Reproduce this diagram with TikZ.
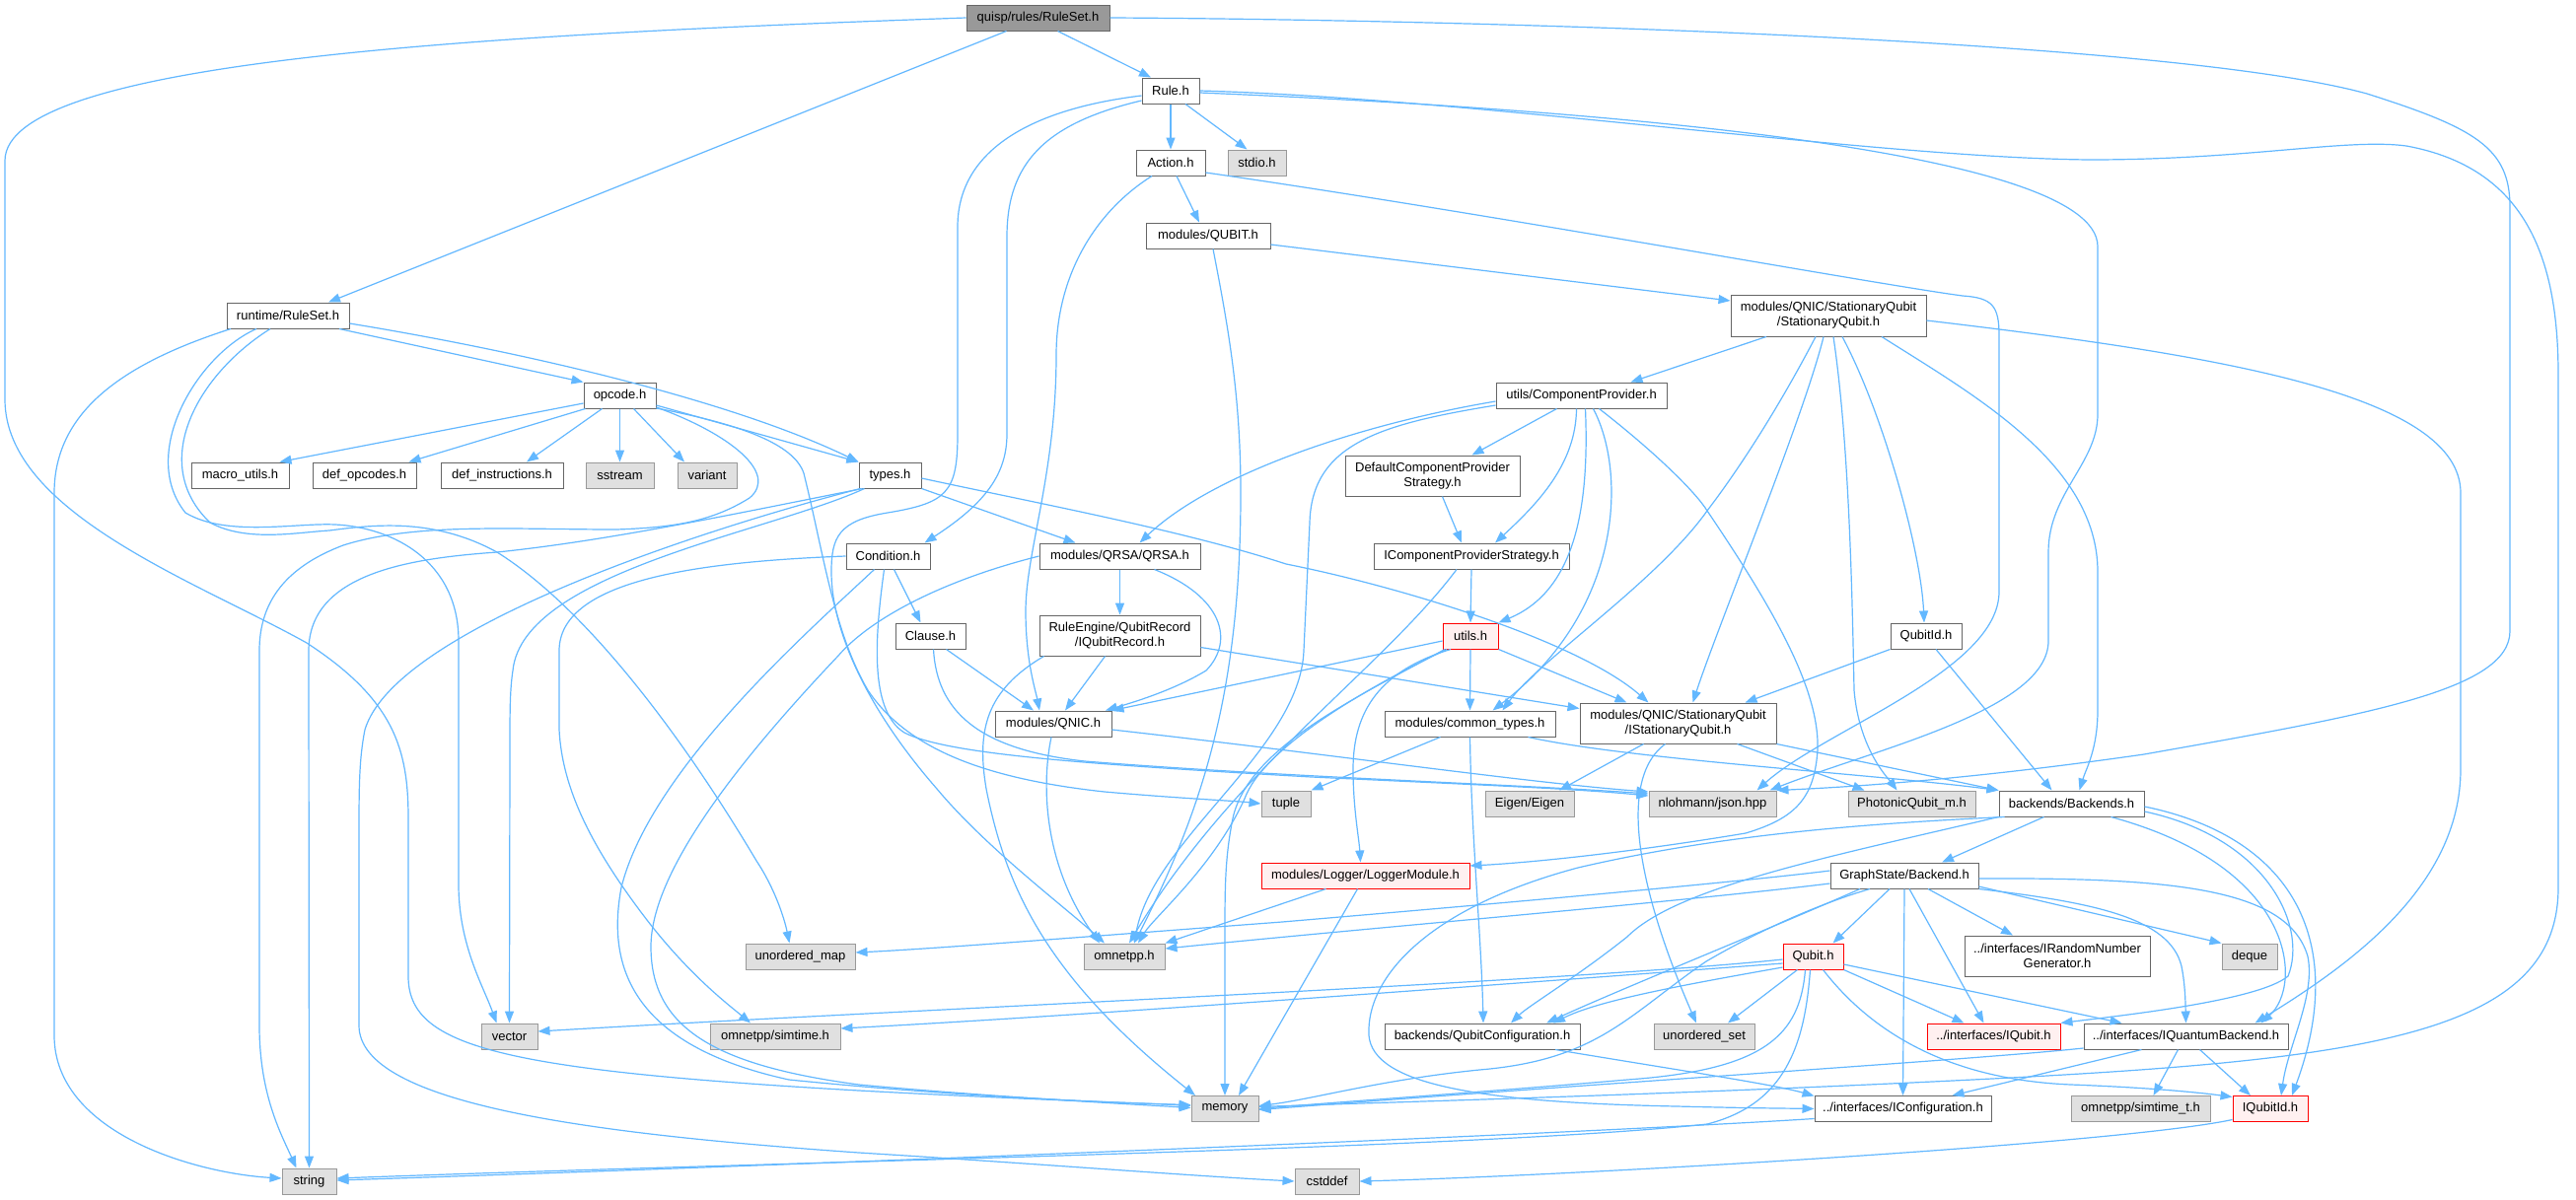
\documentclass[tikz,border=0pt]{standalone}
\usepackage{fontspec}
\setmainfont{Liberation Sans}
\usetikzlibrary{arrows.meta}
\definecolor{edgeblue}{HTML}{63B8FF}
\definecolor{bordergray}{HTML}{666666}
\definecolor{sysfill}{HTML}{E0E0E0}
\definecolor{sysborder}{HTML}{999999}
\definecolor{redborder}{HTML}{FF0000}
\definecolor{redfill}{HTML}{FFF0F0}
\definecolor{rootfill}{HTML}{999999}
\tikzset{
 box/.style={draw=bordergray, fill=white, line width=1pt, inner sep=0pt, minimum height=26pt, font=\fontsize{13}{15}\selectfont, align=center, text=black},
 sys/.style={box, draw=sysborder, fill=sysfill},
 hot/.style={box, draw=redborder, fill=redfill},
 lnk/.style={draw=edgeblue, line width=1.2pt, -{Triangle[length=12pt,width=9pt]}},
}
\begin{document}
\begin{tikzpicture}[x=1pt,y=-1pt]
\fill[white] (0,0) rectangle (2612,1216);
% nodes
\node[box,minimum width=145pt,fill=rootfill] (Q) at (1052.5,18) {quisp/rules/RuleSet.h};
\node[box,minimum width=58pt] (Rule) at (1187,92) {Rule.h};
\node[box,minimum width=70pt] (Action) at (1187,165) {Action.h};
\node[sys,minimum width=59pt] (stdio) at (1274.5,165) {stdio.h};
\node[box,minimum width=126pt] (QUBIT) at (1225,239) {modules/QUBIT.h};
\node[box,minimum width=198pt,minimum height=42pt] (StatQ) at (1854,320) {modules/QNIC/StationaryQubit\\/StationaryQubit.h};
\node[box,minimum width=173pt] (CompProv) at (1603.5,401) {utils/ComponentProvider.h};
\node[box,minimum width=124pt] (RRS) at (292,320) {runtime/RuleSet.h};
\node[box,minimum width=73pt] (opcode) at (628.5,401) {opcode.h};
\node[box,minimum width=99pt] (macro) at (243.5,482) {macro\_utils.h};
\node[box,minimum width=105pt] (defop) at (369.5,482) {def\_opcodes.h};
\node[box,minimum width=124pt] (definst) at (509,482) {def\_instructions.h};
\node[sys,minimum width=69pt] (sstream) at (628.5,482) {sstream};
\node[sys,minimum width=60pt] (variant) at (717,482) {variant};
\node[box,minimum width=63pt] (types) at (902.5,482) {types.h};
\node[box,minimum width=85pt] (Condition) at (900.5,564) {Condition.h};
\node[box,minimum width=163pt] (QRSA) at (1135.5,564) {modules/QRSA/QRSA.h};
\node[box,minimum width=177pt,minimum height=41pt] (Default) at (1452.5,482.5) {DefaultComponentProvider\\Strategy.h};
\node[box,minimum width=198pt] (ICPS) at (1492,564) {IComponentProviderStrategy.h};
\node[box,minimum width=71pt] (Clause) at (943.5,645) {Clause.h};
\node[box,minimum width=163pt,minimum height=41pt] (IQR) at (1135.5,644.5) {RuleEngine/QubitRecord\\/IQubitRecord.h};
\node[hot,minimum width=56pt] (utils) at (1491,645) {utils.h};
\node[box,minimum width=72pt] (QubitId) at (1953,645) {QubitId.h};
\node[box,minimum width=118pt] (QNIC) at (1068,734) {modules/QNIC.h};
\node[box,minimum width=173pt] (common) at (1490.5,734) {modules/common\_types.h};
\node[box,minimum width=199pt,minimum height=41pt] (IStatQ) at (1701.5,733.5) {modules/QNIC/StationaryQubit\\/IStationaryQubit.h};
\node[sys,minimum width=50pt] (tuple) at (1304,815) {tuple};
\node[sys,minimum width=90pt] (Eigen) at (1551,815) {Eigen/Eigen};
\node[sys,minimum width=129pt] (json) at (1736.5,815) {nlohmann/json.hpp};
\node[sys,minimum width=129pt] (Photonic) at (1938.5,815) {PhotonicQubit\_m.h};
\node[box,minimum width=147pt] (Backends) at (2100.5,815) {backends/Backends.h};
\node[hot,minimum width=211pt] (Logger) at (1384.5,888) {modules/Logger/LoggerModule.h};
\node[box,minimum width=150pt] (GSB) at (1931,888) {GraphState/Backend.h};
\node[sys,minimum width=111pt] (unmap) at (811.5,970) {unordered\_map};
\node[sys,minimum width=82pt] (omnetpp) at (1140,970) {omnetpp.h};
\node[hot,minimum width=61pt] (Qubit) at (1838.5,970) {Qubit.h};
\node[box,minimum width=188pt,minimum height=41pt] (IRNG) at (2086,969.5) {../interfaces/IRandomNumber\\Generator.h};
\node[sys,minimum width=56pt] (deque) at (2281,970) {deque};
\node[sys,minimum width=57pt] (vector) at (516.5,1051) {vector};
\node[sys,minimum width=132pt] (simtime) at (786,1051) {omnetpp/simtime.h};
\node[box,minimum width=198pt] (QConf) at (1503,1051) {backends/QubitConfiguration.h};
\node[sys,minimum width=102pt] (unset) at (1728,1051) {unordered\_set};
\node[hot,minimum width=135pt] (IQubit) at (2021.5,1051) {../interfaces/IQubit.h};
\node[box,minimum width=207pt] (IQB) at (2216.5,1051) {../interfaces/IQuantumBackend.h};
\node[sys,minimum width=68pt] (memory) at (1242,1124.5) {memory};
\node[box,minimum width=179pt] (IConf) at (1929.5,1124.5) {../interfaces/IConfiguration.h};
\node[sys,minimum width=141pt] (simtimet) at (2170.5,1124.5) {omnetpp/simtime\_t.h};
\node[hot,minimum width=76pt] (IQubitId) at (2302,1124.5) {IQubitId.h};
\node[sys,minimum width=55pt] (string) at (313.5,1198) {string};
\node[sys,minimum width=65pt] (cstddef) at (1345.5,1198) {cstddef};

% quisp/rules/RuleSet.h
\draw[lnk] ([xshift=20pt]Q.south) -- ([xshift=-20pt]Rule.north);
\draw[lnk] ([xshift=-32pt]Q.south) -- ([xshift=41pt]RRS.north);
\draw[lnk] (Q.west) .. controls (500,35) and (5,60) .. (5,163) -- (5,405) .. controls (5,520) and (200,590) .. (311,652) .. controls (400,710) and (414,760) .. (414,830) -- (414,990) .. controls (414,1060) and (500,1085) .. (871,1106) .. controls (1000,1113) and (1150,1119) .. ([yshift=4pt]memory.west);
\draw[lnk] (Q.east) .. controls (1500,20) and (2200,40) .. (2400,95) .. controls (2510,130) and (2545,150) .. (2545,210) -- (2545,640) .. controls (2545,700) and (2400,725) .. (2174,765) .. controls (2000,790) and (1880,798) .. (json.north east);

% Rule.h
\draw[lnk] (Rule) -- (Action);
\draw[lnk] ([xshift=15pt]Rule.south) -- ([xshift=-10pt]stdio.north);
\draw[lnk] ([yshift=-10pt]Rule.west) .. controls (1060,125) and (1021,165) .. (1021,240) -- (1021,440) .. controls (1021,480) and (1000,510) .. ([xshift=37pt]Condition.north);
\draw[lnk] ([yshift=-5pt]Rule.west) .. controls (1050,110) and (971,150) .. (971,230) -- (971,440) .. controls (971,500) and (960,510) .. (900,520) .. controls (850,528) and (843,545) .. (843,580) .. controls (843,640) and (880,720) .. (950,800) .. controls (1000,860) and (1080,920) .. ([xshift=-20pt]omnetpp.north);
\draw[lnk] ([yshift=-2pt]Rule.east) .. controls (1600,110) and (2127,150) .. (2127,250) -- (2127,420) .. controls (2127,470) and (2077,500) .. (2077,560) -- (2077,650) .. controls (2077,720) and (1900,760) .. ([xshift=58pt]json.north);
\draw[lnk] (Rule.east) .. controls (1500,100) and (1900,160) .. (2119,162) .. controls (2280,162) and (2380,140) .. (2440,148) .. controls (2560,170) and (2594,260) .. (2594,380) -- (2594,900) .. controls (2594,1050) and (2400,1075) .. (2000,1095) .. controls (1700,1110) and (1400,1118) .. ([yshift=2pt]memory.east);

% Action.h
\draw[lnk] ([xshift=6pt]Action.south) -- ([xshift=-9pt]QUBIT.north);
\draw[lnk] ([xshift=-19pt]Action.south) .. controls (1110,215) and (1071,280) .. (1071,360) .. controls (1071,480) and (1040,560) .. (1040,620) .. controls (1040,670) and (1050,700) .. ([xshift=-14pt]QNIC.north);
\draw[lnk] ([yshift=-10pt]Action.east) .. controls (1500,215) and (1900,288) .. (1990,300) .. controls (2020,302) and (2027,310) .. (2027,340) -- (2027,600) .. controls (2027,680) and (1850,740) .. ([xshift=45pt]json.north);

% QUBIT.h
\draw[lnk] ([yshift=-9pt]QUBIT.east) -- ([yshift=15pt]StatQ.west);
\draw[lnk] ([xshift=5pt]QUBIT.south) .. controls (1245,330) and (1258,400) .. (1258,500) .. controls (1258,700) and (1220,820) .. ([xshift=10pt]omnetpp.north);

% StationaryQubit.h
\draw[lnk] ([xshift=-63pt]StatQ.south) -- ([xshift=50pt]CompProv.north);
\draw[lnk] ([xshift=-13pt]StatQ.south) .. controls (1800,420) and (1760,480) .. (1731,518) .. controls (1680,590) and (1560,670) .. ([xshift=33pt]common.north);
\draw[lnk] ([xshift=-5pt]StatQ.south) .. controls (1830,420) and (1740,640) .. ([xshift=15pt]IStatQ.north);
\draw[lnk] ([xshift=5pt]StatQ.south) .. controls (1875,450) and (1878,600) .. (1880,700) .. controls (1885,760) and (1915,790) .. ([xshift=-15pt]Photonic.north);
\draw[lnk] ([xshift=14pt]StatQ.south) .. controls (1910,420) and (1948,560) .. ([xshift=-2pt]QubitId.north);
\draw[lnk] ([xshift=54pt]StatQ.south) .. controls (2000,400) and (2127,470) .. (2127,580) -- (2127,720) .. controls (2127,760) and (2115,780) .. ([xshift=8pt]Backends.north);
\draw[lnk] ([yshift=-5pt]StatQ.east) .. controls (2250,360) and (2495,400) .. (2495,500) -- (2495,780) .. controls (2495,900) and (2380,980) .. ([xshift=70pt]IQB.north);

% ComponentProvider.h
\draw[lnk] ([yshift=-6pt]CompProv.west) .. controls (1380,430) and (1230,480) .. ([xshift=20pt]QRSA.north);
\draw[lnk] ([yshift=-10pt]CompProv.west) .. controls (1400,430) and (1330,450) .. (1328,530) -- (1322,660) .. controls (1318,760) and (1170,850) .. ([xshift=10pt]omnetpp.north);
\draw[lnk] ([xshift=-25pt]CompProv.south) -- ([xshift=40pt]Default.north);
\draw[lnk] ([xshift=-5pt]CompProv.south) .. controls (1598,470) and (1560,510) .. ([xshift=24pt]ICPS.north);
\draw[lnk] ([xshift=4pt]CompProv.south) .. controls (1612,520) and (1595,600) .. (utils.north east);
\draw[lnk] ([xshift=12pt]CompProv.south) .. controls (1650,480) and (1645,620) .. ([xshift=23pt]common.north);
\draw[lnk] ([xshift=18pt]CompProv.south) .. controls (1680,460) and (1720,500) .. (1731,518) .. controls (1800,620) and (1845,700) .. (1843,760) .. controls (1840,810) and (1820,830) .. (1770,845) .. controls (1650,865) and (1550,875) .. ([yshift=10pt]Logger.east);

% runtime/RuleSet.h
\draw[lnk] ([xshift=52pt]RRS.south) -- (opcode.north west);
\draw[lnk] ([yshift=-8pt]RRS.east) .. controls (550,360) and (750,410) .. (types.north west);
\draw[lnk] ([xshift=-58pt]RRS.south) .. controls (120,370) and (55,420) .. (55,500) -- (55,1050) .. controls (55,1150) and (200,1190) .. ([yshift=3pt]string.west);
\draw[lnk] ([xshift=-32pt]RRS.south) .. controls (200,360) and (140,460) .. (188,520) .. controls (230,545) and (300,530) .. (340,532) .. controls (400,535) and (465,570) .. (465,650) -- (465,900) .. controls (466,960) and (490,1000) .. ([xshift=-13pt]vector.north);
\draw[lnk] ([xshift=-18pt]RRS.south) .. controls (200,380) and (150,470) .. (213,530) .. controls (250,550) and (300,540) .. (334,538) .. controls (380,532) and (440,525) .. (504,560) .. controls (600,620) and (700,760) .. (767,873) .. controls (785,900) and (795,930) .. ([xshift=-11pt]unmap.north);

% opcode.h
\draw[lnk] ([yshift=-8pt]opcode.west) -- ([xshift=40pt]macro.north);
\draw[lnk] ([xshift=-35pt]opcode.south) -- ([xshift=45pt]defop.north);
\draw[lnk] ([xshift=-18pt]opcode.south) -- ([xshift=25pt]definst.north);
\draw[lnk] (opcode.south) -- (sstream.north);
\draw[lnk] ([xshift=14pt]opcode.south) -- ([xshift=-23pt]variant.north);
\draw[lnk] ([yshift=-10pt]opcode.east) -- (types.north west);
\draw[lnk] ([yshift=-12pt]opcode.east) .. controls (740,440) and (790,480) .. (760,505) .. controls (720,530) and (680,535) .. (625,537) .. controls (520,537) and (420,530) .. (348,553) .. controls (290,575) and (263,610) .. (263,660) -- (263,1040) .. controls (263,1110) and (285,1150) .. ([xshift=-13pt]string.north);
\draw[lnk] ([yshift=-13pt]opcode.east) .. controls (750,430) and (805,450) .. (815,480) .. controls (835,560) and (845,640) .. (880,700) .. controls (920,760) and (1000,790) .. (1120,803) .. controls (1200,810) and (1250,812) .. (tuple.west);

% types.h
\draw[lnk] (types.south east) -- ([xshift=-45pt]QRSA.north);
\draw[lnk] ([yshift=-3pt]types.east) .. controls (1050,510) and (1200,538) .. (1304,572) .. controls (1420,595) and (1600,650) .. ([xshift=-30pt]IStatQ.north);
\draw[lnk] ([xshift=-28pt]types.south) .. controls (750,520) and (620,548) .. (504,560) .. controls (420,566) and (313,580) .. (313,660) -- (string.north);
\draw[lnk] ([xshift=-30pt]types.south) .. controls (700,540) and (400,640) .. (370,740) .. controls (364,770) and (364,800) .. (364,850) -- (364,1040) .. controls (364,1120) and (600,1150) .. (871,1169) .. controls (1050,1180) and (1200,1192) .. (cstddef.west);
\draw[lnk] ([xshift=-26pt]types.south) .. controls (780,540) and (530,580) .. (520,680) .. controls (517,700) and (517,720) .. (517,760) -- (vector.north);

% Condition.h
\draw[lnk] (Condition.west) .. controls (700,570) and (567,590) .. (567,660) -- (567,740) .. controls (570,800) and (600,860) .. (656,933) .. controls (700,990) and (740,1020) .. ([xshift=-25pt]simtime.north);
\draw[lnk] ([xshift=6pt]Condition.south) -- ([xshift=-10pt]Clause.north);
\draw[lnk] ([xshift=-14pt]Condition.south) .. controls (820,640) and (660,780) .. (630,900) .. controls (615,980) and (640,1060) .. (800,1095) .. controls (1000,1115) and (1150,1118) .. ([yshift=3pt]memory.west);
\draw[lnk] ([xshift=-4pt]Condition.south) .. controls (888,640) and (880,720) .. (917,743) .. controls (960,765) and (1100,775) .. (1330,788) .. controls (1500,796) and (1600,800) .. ([yshift=8pt]json.west);

% QRSA.h
\draw[lnk] (QRSA) -- (IQR);
\draw[lnk] ([xshift=35pt]QRSA.south) .. controls (1240,605) and (1252,650) .. (1223,680) .. controls (1190,700) and (1150,712) .. ([xshift=53pt]QNIC.north);
\draw[lnk] (QRSA.west) .. controls (950,590) and (880,630) .. (850,665) .. controls (760,760) and (660,880) .. (660,960) .. controls (660,1040) and (720,1080) .. (871,1100) .. controls (1000,1112) and (1150,1120) .. ([yshift=1pt]memory.west);

% IQubitRecord.h
\draw[lnk] ([xshift=-15pt]IQR.south) -- ([xshift=12pt]QNIC.north);
\draw[lnk] ([xshift=-77pt]IQR.south) .. controls (1000,700) and (990,740) .. (1000,800) .. controls (1020,900) and (1060,990) .. ([xshift=-30pt]memory.north);
\draw[lnk] ([yshift=-12pt]IQR.east) -- ([yshift=15pt]IStatQ.west);

% Clause.h
\draw[lnk] ([xshift=16pt]Clause.south) -- ([xshift=-20pt]QNIC.north);
\draw[lnk] ([xshift=3pt]Clause.south) .. controls (950,720) and (990,760) .. (1100,772) .. controls (1300,788) and (1550,796) .. ([yshift=10pt]json.west);

% Default / ICPS
\draw[lnk] ([xshift=10pt]Default.south) -- ([xshift=-10pt]ICPS.north);
\draw[lnk] (ICPS.south) -- (utils.north);
\draw[lnk] ([xshift=-15pt]ICPS.south) .. controls (1400,680) and (1250,780) .. ([xshift=5pt]omnetpp.north);

% utils.h
\draw[lnk] ([yshift=-5pt]utils.west) -- (QNIC.north east);
\draw[lnk] (utils.south) -- (common.north);
\draw[lnk] (utils.south east) -- ([xshift=-52pt]IStatQ.north);
\draw[lnk] ([xshift=-20pt]utils.south) .. controls (1400,680) and (1372,720) .. (1372,780) .. controls (1372,820) and (1378,850) .. ([xshift=-5pt]Logger.north);
\draw[lnk] ([xshift=-24pt]utils.south) .. controls (1380,700) and (1280,760) .. (1262,810) .. controls (1230,880) and (1170,930) .. ([xshift=14pt]omnetpp.north);
\draw[lnk] ([xshift=-26pt]utils.south) .. controls (1370,710) and (1265,760) .. (1250,830) .. controls (1242,870) and (1242,900) .. (1242,950) -- (memory.north);

% QNIC.h
\draw[lnk] ([xshift=-2pt]QNIC.south) .. controls (1055,800) and (1060,880) .. ([xshift=-25pt]omnetpp.north);
\draw[lnk] ([yshift=-6pt]QNIC.east) .. controls (1350,765) and (1550,794) .. ([yshift=12pt]json.west);

% common_types.h
\draw[lnk] ([xshift=-30pt]common.south) -- (tuple.north east);
\draw[lnk] (common.south) .. controls (1492,850) and (1502,950) .. ([xshift=1pt]QConf.north);
\draw[lnk] ([xshift=59pt]common.south) .. controls (1650,770) and (1900,785) .. (Backends.north west);

% IStationaryQubit.h
\draw[lnk] ([xshift=-35pt]IStatQ.south) -- ([xshift=30pt]Eigen.north);
\draw[lnk] ([xshift=60pt]IStatQ.south) -- ([xshift=-48pt]Photonic.north);
\draw[lnk] (IStatQ.south east) -- (Backends.north west);
\draw[lnk] ([xshift=-13pt]IStatQ.south) .. controls (1640,790) and (1660,900) .. ([xshift=-8pt]unset.north);

% QubitId.h
\draw[lnk] (QubitId.south west) -- ([xshift=68pt]IStatQ.north);
\draw[lnk] ([xshift=10pt]QubitId.south) -- ([xshift=-20pt]Backends.north);

% Backends.h
\draw[lnk] ([xshift=-28pt]Backends.south) -- ([xshift=38pt]GSB.north);
\draw[lnk] (Backends.south west) .. controls (1850,870) and (1700,900) .. (1650,950) .. controls (1600,990) and (1550,1020) .. ([xshift=29pt]QConf.north);
\draw[lnk] ([xshift=-68pt]Backends.south) .. controls (1900,835) and (1750,845) .. (1600,880) .. controls (1450,920) and (1385,990) .. (1388,1050) .. controls (1392,1100) and (1500,1118) .. (1700,1122) .. controls (1780,1124) and (1810,1124) .. (IConf.west);
\draw[lnk] ([yshift=-8pt]Backends.east) .. controls (2300,850) and (2340,940) .. (2320,990) .. controls (2290,1015) and (2150,1030) .. (IQubit.north east);
\draw[lnk] ([xshift=40pt]Backends.south) .. controls (2330,880) and (2335,1000) .. ([xshift=76pt]IQB.north);
\draw[lnk] ([yshift=-3pt]Backends.east) .. controls (2330,850) and (2380,960) .. ([xshift=22pt]IQubitId.north);

% GraphState/Backend.h
\draw[lnk] ([xshift=-15pt]GSB.south) -- ([xshift=20pt]Qubit.north);
\draw[lnk] ([xshift=24pt]GSB.south) -- ([xshift=-45pt]IRNG.north);
\draw[lnk] ([yshift=-11pt]GSB.east) -- (deque.north west);
\draw[lnk] (GSB.south east) .. controls (2120,915) and (2200,930) .. (2212,980) .. controls (2216,1000) and (2216,1020) .. (IQB.north);
\draw[lnk] ([yshift=-3pt]GSB.east) .. controls (2200,890) and (2320,900) .. (2340,970) .. controls (2348,1010) and (2320,1060) .. ([xshift=11pt]IQubitId.north);
\draw[lnk] ([xshift=5pt]GSB.south) -- ([xshift=-10pt]IQubit.north);
\draw[lnk] (GSB.south) -- (IConf.north);
\draw[lnk] ([xshift=-45pt]GSB.south) .. controls (1800,940) and (1650,1000) .. ([xshift=65pt]QConf.north);
\draw[lnk] ([xshift=-35pt]GSB.south) .. controls (1850,915) and (1790,940) .. (1730,975) .. controls (1650,1030) and (1620,1075) .. (1500,1085) .. controls (1400,1095) and (1330,1115) .. ([yshift=3pt]memory.east);
\draw[lnk] ([yshift=-8pt]GSB.west) .. controls (1700,915) and (1400,940) .. ([yshift=8pt]omnetpp.east);
\draw[lnk] ([yshift=5pt]GSB.west) .. controls (1760,895) and (1500,918) .. (1300,935) .. controls (1100,950) and (950,962) .. ([yshift=4pt]unmap.east);

% Qubit.h
\draw[lnk] ([xshift=-16pt]Qubit.south) -- ([xshift=24pt]unset.north);
\draw[lnk] (Qubit.south east) -- ([xshift=-30pt]IQubit.north);
\draw[lnk] ([yshift=-8pt]Qubit.east) -- ([xshift=-65pt]IQB.north);
\draw[lnk] ([xshift=10pt]Qubit.south) .. controls (1900,1050) and (1980,1095) .. (2100,1100) .. controls (2180,1103) and (2230,1108) .. ([yshift=12pt]IQubitId.west);
\draw[lnk] ([yshift=-11pt]Qubit.west) .. controls (1700,1000) and (1620,1015) .. ([xshift=72pt]QConf.north);
\draw[lnk] ([yshift=-3pt]Qubit.west) .. controls (1600,995) and (900,1025) .. ([yshift=5pt]vector.east);
\draw[lnk] ([yshift=-7pt]Qubit.west) .. controls (1500,1000) and (1100,1030) .. ([yshift=8pt]simtime.east);
\draw[lnk] ([xshift=-3pt]Qubit.south) .. controls (1830,1060) and (1810,1120) .. (1731,1140) .. controls (1500,1165) and (800,1178) .. ([yshift=3pt]string.east);
\draw[lnk] ([xshift=-8pt]Qubit.south) .. controls (1825,1050) and (1790,1085) .. (1650,1095) .. controls (1500,1108) and (1350,1118) .. (memory.east);

% IQuantumBackend.h
\draw[lnk] ([xshift=-45pt]IQB.south) -- ([xshift=50pt]IConf.north);
\draw[lnk] ([xshift=-8pt]IQB.south) -- ([xshift=13pt]simtimet.north);
\draw[lnk] ([xshift=14pt]IQB.south) -- ([xshift=-20pt]IQubitId.north);
\draw[lnk] ([yshift=-12pt]IQB.west) .. controls (2000,1075) and (1600,1100) .. ([yshift=-1pt]memory.east);

% others
\draw[lnk] ([yshift=-11pt]IQubitId.west) .. controls (2150,1160) and (1600,1192) .. (cstddef.east);
\draw[lnk] ([yshift=-10pt]IConf.west) .. controls (1600,1150) and (800,1182) .. ([yshift=1pt]string.east);
\draw[lnk] ([xshift=74pt]QConf.south) .. controls (1700,1085) and (1800,1100) .. ([yshift=13pt]IConf.west);
\draw[lnk] ([xshift=-40pt]Logger.south) -- (omnetpp.north east);
\draw[lnk] ([xshift=-8pt]Logger.south) -- ([xshift=14pt]memory.north);
\end{tikzpicture}
\end{document}
